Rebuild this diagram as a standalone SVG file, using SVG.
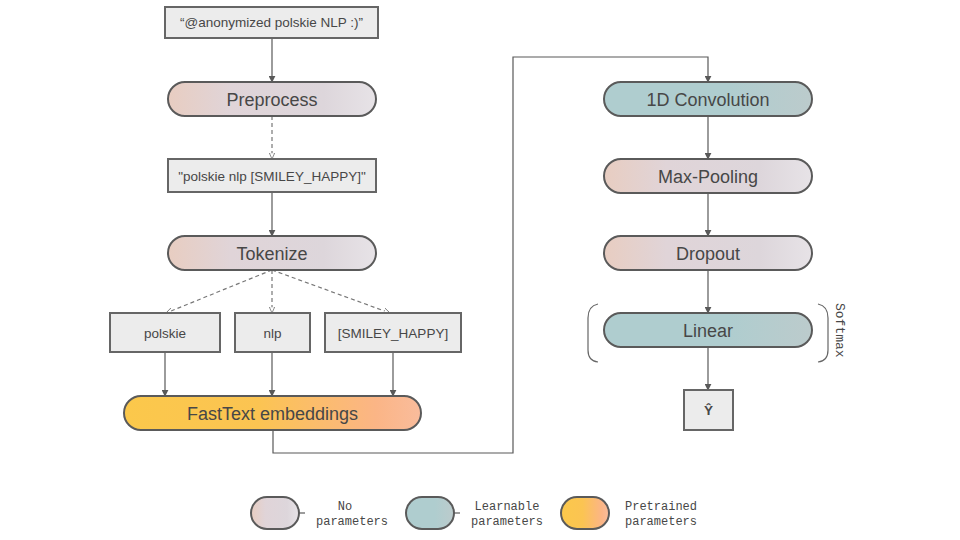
<svg xmlns="http://www.w3.org/2000/svg" width="960" height="540" viewBox="0 0 960 540">
<defs>
<linearGradient id="gNo" x1="0" y1="0" x2="1" y2="0">
<stop offset="0" stop-color="#e8cdc1"/>
<stop offset="0.3" stop-color="#e0d4d8"/>
<stop offset="0.75" stop-color="#ddd6db"/>
<stop offset="1" stop-color="#e7e3e7"/>
</linearGradient>
<linearGradient id="gLearn" x1="0" y1="0" x2="1" y2="0">
<stop offset="0" stop-color="#afcdcf"/>
<stop offset="0.6" stop-color="#afcdcf"/>
<stop offset="1" stop-color="#bccbcc"/>
</linearGradient>
<linearGradient id="gPre" x1="0" y1="0" x2="1" y2="0">
<stop offset="0" stop-color="#fbc84b"/>
<stop offset="0.45" stop-color="#fbc452"/>
<stop offset="0.85" stop-color="#fbb586"/>
<stop offset="1" stop-color="#f9bc9c"/>
</linearGradient>
<marker id="ah" viewBox="0 0 10 10" refX="9" refY="5" markerWidth="7" markerHeight="7" orient="auto" markerUnits="userSpaceOnUse">
<path d="M0,0 L10,5 L0,10 z" fill="#595959"/>
</marker>
<marker id="ahOpen" viewBox="0 0 10 10" refX="9" refY="5" markerWidth="7" markerHeight="7" orient="auto" markerUnits="userSpaceOnUse">
<path d="M0,1 L9,5 L0,9 z" fill="#ffffff" stroke="#777777" stroke-width="1.2"/>
</marker>
</defs>
<style>
.box{fill:#ececec;stroke:#666666;stroke-width:2}
.pill{stroke:#5a5a5a;stroke-width:2}
.no{fill:url(#gNo)}
.learn{fill:url(#gLearn)}
.pre{fill:url(#gPre)}
.pt{font-family:"Liberation Sans",Arial,sans-serif;font-size:18px;fill:#474747;text-anchor:middle;dominant-baseline:central}
.bt{font-family:"Liberation Sans",Arial,sans-serif;font-size:13.5px;fill:#474747;text-anchor:middle;dominant-baseline:central}
.mono{font-family:"Liberation Mono","DejaVu Sans Mono",monospace;font-size:12px;fill:#474747}
.c{fill:none;stroke:#595959;stroke-width:1.2}
.d{fill:none;stroke:#777777;stroke-width:1.2;stroke-dasharray:4 3}
.br{fill:none;stroke:#666666;stroke-width:1.2}
</style>
<rect width="960" height="540" fill="#ffffff"/>

<g id="connectors">
<line class="c" x1="272" y1="38" x2="272" y2="82" marker-end="url(#ah)"/>
<line class="d" x1="272" y1="116" x2="272" y2="159" marker-end="url(#ahOpen)"/>
<line class="c" x1="272" y1="192" x2="272" y2="236" marker-end="url(#ah)"/>
<line class="d" x1="272" y1="270" x2="166" y2="313" marker-end="url(#ahOpen)"/>
<line class="d" x1="272" y1="270" x2="272" y2="313" marker-end="url(#ahOpen)"/>
<line class="d" x1="272" y1="270" x2="390" y2="313" marker-end="url(#ahOpen)"/>
<line class="c" x1="165" y1="353" x2="165" y2="396" marker-end="url(#ah)"/>
<line class="c" x1="272" y1="353" x2="272" y2="396" marker-end="url(#ah)"/>
<line class="c" x1="393" y1="353" x2="393" y2="396" marker-end="url(#ah)"/>
<polyline class="c" points="273,430 273,453 513,453 513,57 708,57 708,82" marker-end="url(#ah)"/>
<line class="c" x1="708" y1="116" x2="708" y2="159" marker-end="url(#ah)"/>
<line class="c" x1="708" y1="193" x2="708" y2="236" marker-end="url(#ah)"/>
<line class="c" x1="708" y1="270" x2="708" y2="313" marker-end="url(#ah)"/>
<line class="c" x1="708" y1="347" x2="708" y2="390" marker-end="url(#ah)"/>
</g>

<g id="input">
<rect class="box" x="165" y="7" width="213" height="31"/>
<text class="bt" x="271.5" y="22.5">“@anonymized polskie NLP :)”</text>
</g>
<g id="preprocess">
<rect class="pill no" x="168" y="82" width="208" height="34" rx="17"/>
<text class="pt" x="272" y="99.5">Preprocess</text>
</g>
<g id="cleaned">
<rect class="box" x="168" y="159" width="208" height="33"/>
<text class="bt" x="272" y="176">"polskie nlp [SMILEY_HAPPY]"</text>
</g>
<g id="tokenize">
<rect class="pill no" x="168" y="236" width="208" height="34" rx="17"/>
<text class="pt" x="272" y="253.5">Tokenize</text>
</g>
<g id="tok-polskie">
<rect class="box" x="110" y="313" width="110" height="39"/>
<text class="bt" x="165" y="333">polskie</text>
</g>
<g id="tok-nlp">
<rect class="box" x="235" y="313" width="75" height="39"/>
<text class="bt" x="272.5" y="333">nlp</text>
</g>
<g id="tok-smiley">
<rect class="box" x="325" y="313" width="136" height="39"/>
<text class="bt" x="393" y="333">[SMILEY_HAPPY]</text>
</g>
<g id="fasttext">
<rect class="pill pre" x="124" y="396" width="297" height="34" rx="17"/>
<text class="pt" x="272.5" y="413.5">FastText embeddings</text>
</g>

<g id="conv">
<rect class="pill learn" x="604" y="82" width="208" height="34" rx="17"/>
<text class="pt" x="708" y="99.5">1D Convolution</text>
</g>
<g id="maxpool">
<rect class="pill no" x="604" y="159" width="208" height="34" rx="17"/>
<text class="pt" x="708" y="176.5">Max-Pooling</text>
</g>
<g id="dropout">
<rect class="pill no" x="604" y="236" width="208" height="34" rx="17"/>
<text class="pt" x="708" y="253.5">Dropout</text>
</g>
<g id="linear">
<rect class="pill learn" x="604" y="313" width="208" height="34" rx="17"/>
<text class="pt" x="708" y="330.5">Linear</text>
</g>
<g id="softmax">
<path class="br" d="M598,304 Q588,306 588,318 L588,350 Q588,361 598,362"/>
<path class="br" d="M818,304 Q828,306 828,318 L828,350 Q828,361 818,362"/>
<text class="mono" transform="translate(836,303) rotate(90)" style="font-size:13px">Softmax</text>
</g>
<g id="output">
<rect class="box" x="684" y="390" width="49" height="40"/>
<text class="bt" x="708.5" y="410" style="font-weight:bold">Ŷ</text>
</g>

<g id="legend">
<g id="legend-no">
<rect class="pill no" x="251" y="497" width="48" height="32" rx="16"/>
<line class="c" x1="299" y1="513" x2="305" y2="513"/>
<text class="mono" x="345" y="510" text-anchor="middle">No</text>
<text class="mono" x="352" y="525" text-anchor="middle">parameters</text>
</g>
<g id="legend-learn">
<rect class="pill learn" x="406" y="497" width="48" height="32" rx="16"/>
<line class="c" x1="454" y1="513" x2="460" y2="513"/>
<text class="mono" x="507" y="510" text-anchor="middle">Learnable</text>
<text class="mono" x="507" y="525" text-anchor="middle">parameters</text>
</g>
<g id="legend-pre">
<rect class="pill pre" x="561" y="497" width="48" height="32" rx="16"/>
<text class="mono" x="661" y="510" text-anchor="middle">Pretrained</text>
<text class="mono" x="661" y="525" text-anchor="middle">parameters</text>
</g>
</g>
</svg>
